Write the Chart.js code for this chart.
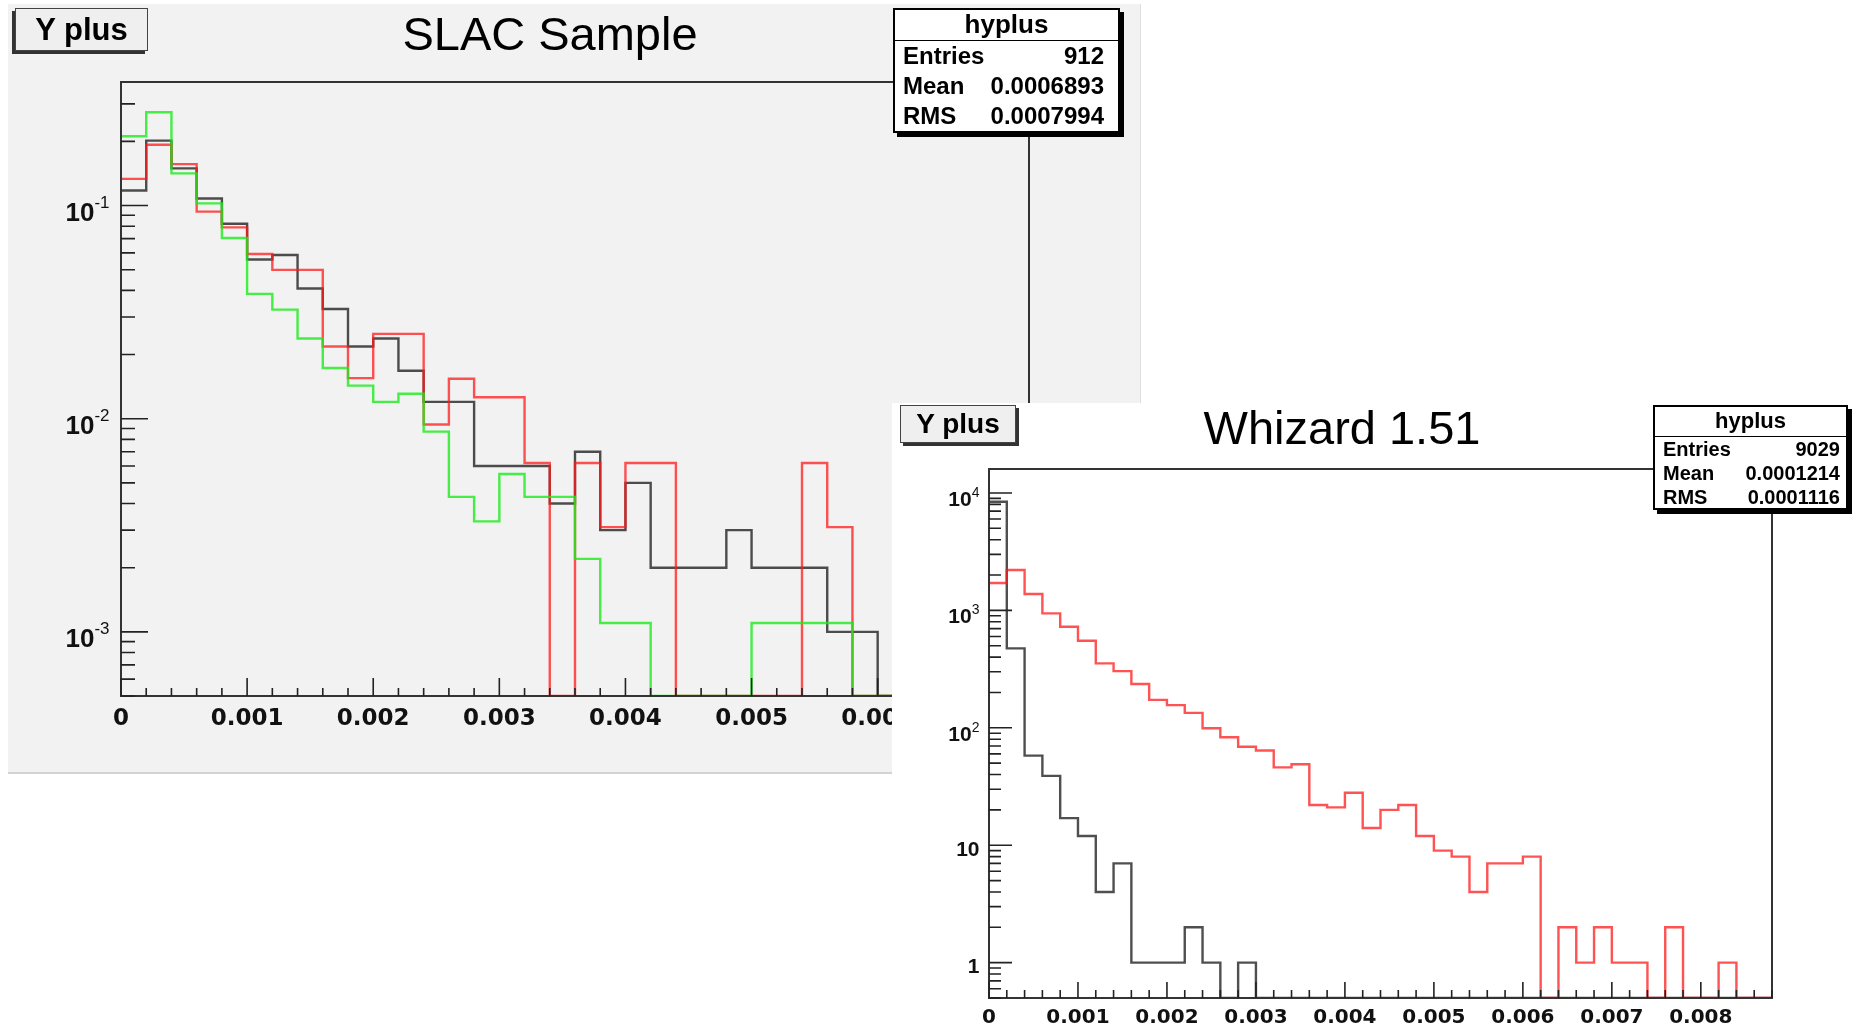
<!DOCTYPE html>
<html>
<head>
<meta charset="utf-8">
<script src="https://cdn.jsdelivr.net/npm/chart.js@4.4.1/dist/chart.umd.min.js"></script>
<style>
  body { margin: 0; width: 1856px; height: 1025px; background: #fff; position: relative; overflow: hidden;
         font-family: "Liberation Sans", Arial, sans-serif; color: #000; }
  .pad { position: absolute; box-sizing: border-box; }
  #slacPad { left: 8px; top: 4px; width: 1133px; height: 770px; background: #f2f2f2;
             border-right: 1px solid #dedede; border-bottom: 2px solid #d2d2d2; z-index: 1; }
  #whizPad { left: 892px; top: 403px; width: 964px; height: 622px; background: #fff; z-index: 2; }
  .pad canvas { position: absolute; left: 0; top: 0; }
  .namebox { position: absolute; box-sizing: border-box; background: #efefef; border: 1.5px solid #444;
             display: flex; align-items: center; justify-content: center; font-weight: bold; white-space: nowrap; }
  .title { position: absolute; width: 600px; text-align: center; font-size: 47px; line-height: 46px; white-space: nowrap; }
  .stats { position: absolute; box-sizing: border-box; background: #fff; border: 2px solid #000;
           box-shadow: 4px 4px 0 #000; font-weight: bold; }
  .stats .hd { text-align: center; border-bottom: 1.5px solid #000; box-sizing: border-box; }
  .stats .row { display: flex; justify-content: space-between; align-items: center; }
</style>
</head>
<body>

<div class="pad" id="slacPad">
  <canvas id="slacChart" width="1132" height="768"></canvas>
  <div class="namebox" style="left:7px; top:4px; width:133px; height:43px; font-size:31px; box-shadow:-3px 3px 0 #333;">Y plus</div>
  <div class="title" style="left:242px; top:7px;">SLAC Sample</div>
  <div class="stats" style="left:885px; top:4px; width:227px; height:125px; font-size:24px;">
    <div class="hd" style="height:31px; line-height:29px; font-size:26px;">hyplus</div>
    <div class="row" style="height:30px; padding:0 14px 0 8px;"><span>Entries</span><span>912</span></div>
    <div class="row" style="height:30px; padding:0 14px 0 8px;"><span>Mean</span><span>0.0006893</span></div>
    <div class="row" style="height:30px; padding:0 14px 0 8px;"><span>RMS</span><span>0.0007994</span></div>
  </div>
</div>

<div class="pad" id="whizPad">
  <canvas id="whizChart" width="964" height="622"></canvas>
  <div class="namebox" style="left:8px; top:2px; width:116px; height:38px; font-size:28px; box-shadow:3px 3px 0 #333;">Y plus</div>
  <div class="title" style="left:150px; top:2px;">Whizard 1.51</div>
  <div class="stats" style="left:761px; top:2px; width:195px; height:105px; font-size:20px;">
    <div class="hd" style="height:30px; line-height:28px; font-size:22px;">hyplus</div>
    <div class="row" style="height:24px; padding:0 6px 0 8px;"><span>Entries</span><span>9029</span></div>
    <div class="row" style="height:24px; padding:0 6px 0 8px;"><span>Mean</span><span>0.0001214</span></div>
    <div class="row" style="height:24px; padding:0 6px 0 8px;"><span>RMS</span><span>0.0001116</span></div>
  </div>
</div>

<script>
// bin width of both histograms (x in units of Y plus)
const binWidth = 0.0002;

// SLAC sample, 36 bins from 0 to 0.0072 (normalised)
const slacBlack = [0.1176, 0.2018, 0.1495, 0.108, 0.0822, 0.0558, 0.0586, 0.0408, 0.0327, 0.0218,
  0.0238, 0.0168, 0.012, 0.012, 0.006, 0.006, 0.006, 0.004, 0.007, 0.003,
  0.005, 0.002, 0.002, 0.002, 0.003, 0.002, 0.002, 0.002, 0.001, 0.001,
  0, 0, 0, 0, 0, 0];
const slacRed = [0.1335, 0.1928, 0.1564, 0.0937, 0.079, 0.0593, 0.0499, 0.0499, 0.0218, 0.0155,
  0.025, 0.025, 0.0094, 0.0154, 0.0126, 0.0126, 0.0062, 0, 0.0062, 0.0031,
  0.0062, 0.0062, 0, 0, 0, 0, 0, 0.0062, 0.0031, 0,
  0, 0, 0, 0, 0, 0];
const slacGreen = [0.2113, 0.274, 0.1416, 0.1024, 0.0705, 0.0385, 0.0325, 0.0238, 0.0173, 0.0143,
  0.012, 0.0131, 0.0087, 0.0043, 0.0033, 0.0055, 0.0043, 0.0043, 0.0022, 0.0011,
  0.0011, 0, 0, 0, 0, 0.0011, 0.0011, 0.0011, 0.0011, 0,
  0, 0, 0, 0, 0, 0];

// Whizard 1.51, 44 bins from 0 to 0.0088 (entries)
const whizBlack = [8420, 475, 58, 39, 17, 12, 4, 7, 1, 1,
  1, 2, 1, 0, 1, 0, 0, 0, 0, 0,
  0, 0, 0, 0, 0, 0, 0, 0, 0, 0,
  0, 0, 0, 0, 0, 0, 0, 0, 0, 0,
  0, 0, 0, 0];
const whizRed = [1713, 2209, 1380, 944, 726, 551, 354, 304, 236, 173,
  156, 134, 99, 83, 69, 64, 46, 49, 22, 21,
  28, 14, 20, 22, 12, 9, 8, 4, 7, 7,
  8, 0, 2, 1, 2, 1, 1, 0, 2, 0,
  0, 1, 0, 0];

// axis ticks and labels
const slacXTicks = [0, 0.001, 0.002, 0.003, 0.004, 0.005, 0.006];
const slacXLabels = ['0', '0.001', '0.002', '0.003', '0.004', '0.005', '0.006'];
const slacYTicks = [1e-3, 1e-2, 1e-1];
const slacYBase = ['10', '10', '10'];
const slacYExp = ['-3', '-2', '-1'];

const whizXTicks = [0, 0.001, 0.002, 0.003, 0.004, 0.005, 0.006, 0.007, 0.008];
const whizXLabels = ['0', '0.001', '0.002', '0.003', '0.004', '0.005', '0.006', '0.007', '0.008'];
const whizYTicks = [1, 10, 100, 1000, 10000];
const whizYBase = ['1', '10', '10', '10', '10'];
const whizYExp = ['', '', '2', '3', '4'];

// histogram outline: one point per lower bin edge plus the closing upper edge,
// empty bins sit on the axis floor like ROOT draws them
function stepPoints(counts, floor) {
  const pts = counts.map((c, i) => ({ x: i * binWidth, y: c > 0 ? c : floor }));
  pts.push({ x: counts.length * binWidth, y: pts[pts.length - 1].y });
  return pts;
}

// ROOT style frame: ticks inside the frame, labels with exponents
const rootAxes = {
  id: 'rootAxes',
  afterDatasetsDraw(chart, args, o) {
    const { ctx, chartArea: a } = chart;
    const x = chart.scales.x, y = chart.scales.y;
    ctx.save();
    ctx.strokeStyle = '#333';
    ctx.lineWidth = 2;
    ctx.strokeRect(a.left, a.top, a.right - a.left, a.bottom - a.top);

    ctx.lineWidth = 1.6;
    ctx.strokeStyle = '#222';
    ctx.beginPath();
    const nMinor = Math.round((x.max - x.min) / binWidth);
    for (let i = 0; i <= nMinor; i++) {
      const v = x.min + i * binWidth;
      const major = o.xTicks.some(t => Math.abs(t - v) < binWidth / 10);
      const px = x.getPixelForValue(v);
      ctx.moveTo(px, a.bottom);
      ctx.lineTo(px, a.bottom - (major ? o.xMajorLen : o.xMinorLen));
    }
    const d0 = Math.floor(Math.log10(y.min)), d1 = Math.ceil(Math.log10(y.max));
    for (let d = d0; d <= d1; d++) {
      for (let k = 1; k <= 9; k++) {
        const v = k * Math.pow(10, d);
        if (v < y.min * 0.999 || v > y.max) continue;
        const py = y.getPixelForValue(v);
        ctx.moveTo(a.left, py);
        ctx.lineTo(a.left + (k === 1 ? o.yMajorLen : o.yMinorLen), py);
      }
    }
    ctx.stroke();

    ctx.fillStyle = '#111';
    ctx.textBaseline = 'alphabetic';
    ctx.textAlign = 'center';
    ctx.font = o.xFont;
    o.xTicks.forEach((v, i) => ctx.fillText(o.xLabels[i], x.getPixelForValue(v), a.bottom + o.xLabelDrop));

    ctx.textAlign = 'left';
    o.yTicks.forEach((v, i) => {
      const py = y.getPixelForValue(v);
      const base = o.yBase[i], exp = o.yExp[i];
      ctx.font = o.yExpFont;
      const we = exp ? ctx.measureText(exp).width : 0;
      ctx.font = o.yFont;
      const wb = ctx.measureText(base).width;
      const right = a.left - o.yGap;
      ctx.fillText(base, right - we - wb, py + (exp ? o.yBaseDropExp : o.yBaseDrop));
      if (exp) {
        ctx.font = o.yExpFont;
        ctx.fillText(exp, right - we, py + o.yExpDrop);
      }
    });
    ctx.restore();
  }
};

function histChart(id, datasets, xMax, yMin, yMax, padding, axisOpts) {
  return new Chart(document.getElementById(id), {
    type: 'line',
    data: { datasets },
    options: {
      responsive: false,
      animation: false,
      layout: { padding },
      elements: { point: { radius: 0 }, line: { borderWidth: 2.4, tension: 0 } },
      scales: {
        x: { type: 'linear', min: 0, max: xMax, display: false },
        y: { type: 'logarithmic', min: yMin, max: yMax, display: false }
      },
      plugins: { legend: { display: false }, tooltip: { enabled: false }, rootAxes: axisOpts }
    },
    plugins: [rootAxes]
  });
}

const slacMin = 5e-4;
histChart('slacChart', [
  { data: stepPoints(slacGreen, slacMin), borderColor: 'rgba(25,235,25,0.8)', stepped: true, fill: false, order: 0 },
  { data: stepPoints(slacRed, slacMin), borderColor: 'rgba(255,25,25,0.75)', stepped: true, fill: false, order: 1 },
  { data: stepPoints(slacBlack, slacMin), borderColor: 'rgba(20,20,20,0.75)', stepped: true, fill: false, order: 2 }
], slacBlack.length * binWidth, slacMin, 0.38,
  { left: 113, top: 78, right: 111, bottom: 76 },
  { xTicks: slacXTicks, xLabels: slacXLabels, yTicks: slacYTicks, yBase: slacYBase, yExp: slacYExp,
    xMajorLen: 18, xMinorLen: 8, yMajorLen: 27, yMinorLen: 14,
    xFont: 'bold 23px "DejaVu Sans"', xLabelDrop: 29,
    yFont: 'bold 26px "Liberation Sans"', yExpFont: '17px "Liberation Sans"',
    yGap: 11.5, yBaseDrop: 9.5, yBaseDropExp: 15.5, yExpDrop: 2.5 });

const whizMin = 0.5;
histChart('whizChart', [
  { data: stepPoints(whizRed, whizMin), borderColor: 'rgba(255,25,25,0.75)', stepped: true, fill: false, order: 0 },
  { data: stepPoints(whizBlack, whizMin), borderColor: 'rgba(20,20,20,0.75)', stepped: true, fill: false, order: 1 }
], whizRed.length * binWidth, whizMin, 16000,
  { left: 97, top: 66, right: 84, bottom: 27 },
  { xTicks: whizXTicks, xLabels: whizXLabels, yTicks: whizYTicks, yBase: whizYBase, yExp: whizYExp,
    xMajorLen: 16, xMinorLen: 8, yMajorLen: 23, yMinorLen: 12,
    xFont: 'bold 20px "DejaVu Sans"', xLabelDrop: 25,
    yFont: 'bold 21px "Liberation Sans"', yExpFont: '14px "Liberation Sans"',
    yGap: 9.5, yBaseDrop: 10.5, yBaseDropExp: 13, yExpDrop: 4 });
</script>
</body>
</html>
